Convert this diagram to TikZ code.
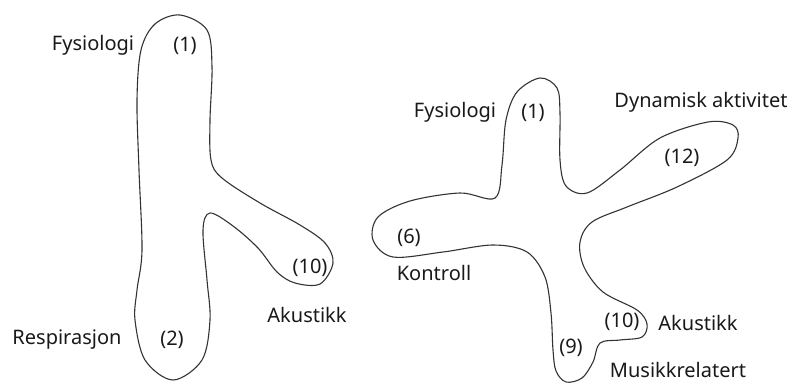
\documentclass[tikz,border=0pt]{standalone}
\usepackage{fontspec}
\setmainfont{Noto Sans}
\begin{document}
\begin{tikzpicture}[x=1pt,y=-1pt,
  blob/.style={draw=black!80, line width=1.1pt},
  lbl/.style={font=\fontsize{20}{22}\selectfont, text=black!90, inner sep=0pt}]
\useasboundingbox (0,0) rectangle (795,383);

% left shape: two lobes joined by a side branch
\draw[blob] plot[smooth cycle, tension=0.55] coordinates {
  (180,15) (207,30) (212,67) (210,120) (211,160) (222,178) (260,203)
  (300,225) (325,243) (333,263) (320,284) (295,283) (277,272) (258,248)
  (233,226) (210,213) (203,230) (207,280) (210,320) (202,360) (173,380)
  (145,360) (135,320) (137,290) (142,250) (139,170) (137,100) (141,50)
  (155,24)};

% right shape: five arms
\draw[blob] plot[smooth cycle, tension=0.55] coordinates {
  (495,198) (502,165) (506,120) (517,92) (540,78) (557,88) (560,113)
  (560,160) (566,186) (587,193) (620,170) (660,138) (708,122) (733,125)
  (738,138) (727,160) (677,187) (627,207) (592,222) (580,242) (584,267)
  (603,292) (637,310) (647,324) (642,337) (620,340) (600,343) (593,362)
  (582,378) (566,382) (556,371) (553,350) (551,313) (545,277) (527,252)
  (493,245) (443,252) (393,257) (373,240) (378,217) (410,201) (460,193)};

% labels of the left shape
\node[lbl] (fys1) at (93,45) {Fysiologi};
\node[lbl] (n1a) at (185,46) {(1)};
\node[lbl] (resp) at (67,340) {Respirasjon};
\node[lbl] (n2) at (172,340) {(2)};
\node[lbl] (n10a) at (310,268) {(10)};
\node[lbl] (ak1) at (307,315) {Akustikk};

% labels of the right shape
\node[lbl] (fys2) at (455,112) {Fysiologi};
\node[lbl] (n1b) at (533,113) {(1)};
\node[lbl] (dyn) at (701,102) {Dynamisk aktivitet};
\node[lbl] (n12) at (682,158) {(12)};
\node[lbl] (n6) at (409,238) {(6)};
\node[lbl] (kon) at (434,273) {Kontroll};
\node[lbl] (n10b) at (622,322) {(10)};
\node[lbl] (ak2) at (698,323) {Akustikk};
\node[lbl] (n9) at (571,348) {(9)};
\node[lbl] (mus) at (678,370) {Musikkrelatert};
\end{tikzpicture}
\end{document}
